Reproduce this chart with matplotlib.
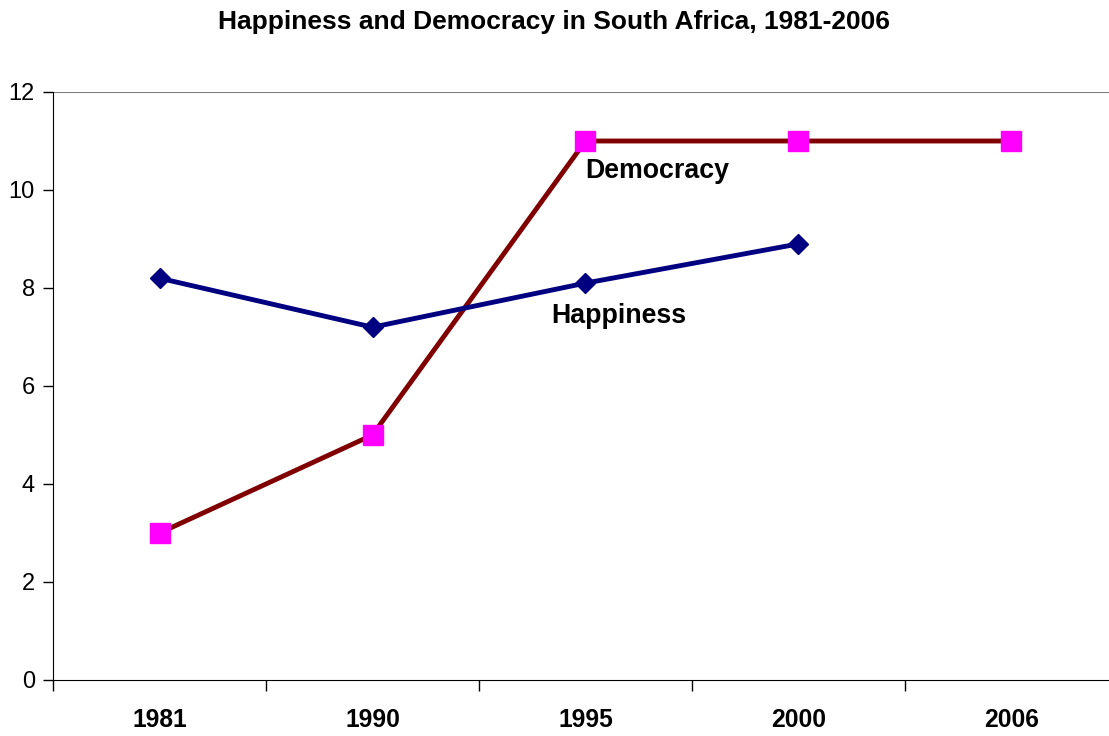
import matplotlib.pyplot as plt

plt.rcParams['font.family'] = ['Liberation Sans', 'DejaVu Sans']

# Data
years = ['1981', '1990', '1995', '2000', '2006']
happiness = [8.2, 7.2, 8.1, 8.9, None]
democracy = [3, 5, 11, 11, 11]

fig = plt.figure(figsize=(11.09, 7.36), dpi=100)
ax = fig.add_axes([0.0478, 0.0761, 0.9603, 0.7989])

x = list(range(len(years)))
hx = [i for i, v in zip(x, happiness) if v is not None]
hy = [v for v in happiness if v is not None]

ax.plot(x, democracy, color='#800000', lw=3.5, marker='s', ms=14,
        mfc='#FF00FF', mec='#FF00FF', zorder=3)
ax.plot(hx, hy, color='#000080', lw=3.5, marker='D', ms=10.5,
        mfc='#000080', mec='#000080', zorder=3)

ax.text(2.0, 10.39, 'Democracy', fontsize=19.3, fontweight='bold', va='center', ha='left')
ax.text(1.84, 7.43, 'Happiness', fontsize=19.3, fontweight='bold', va='center', ha='left')

ax.set_xlim(-0.5, 4.5)
ax.set_ylim(0, 12)
ax.set_yticks(range(0, 13, 2))
ax.tick_params(axis='y', labelsize=17, length=7, width=1, direction='out', pad=6)

ax.set_xticks([i + 0.5 for i in range(-1, 5)])
ax.set_xticklabels([])
ax.set_xticks(x, minor=True)
ax.set_xticklabels(years, minor=True, fontsize=17.7, fontweight='bold')
ax.tick_params(axis='x', which='major', length=8, width=1, direction='out')
ax.tick_params(axis='x', which='minor', length=0, pad=20)

ax.axhline(12, color='#808080', lw=1.5, zorder=1)
ax.spines['top'].set_visible(False)
ax.spines['right'].set_visible(False)

fig.suptitle('Happiness and Democracy in South Africa, 1981-2006',
             fontsize=19, fontweight='bold', y=0.970, va='center')

fig.savefig('out.png', dpi=100)
